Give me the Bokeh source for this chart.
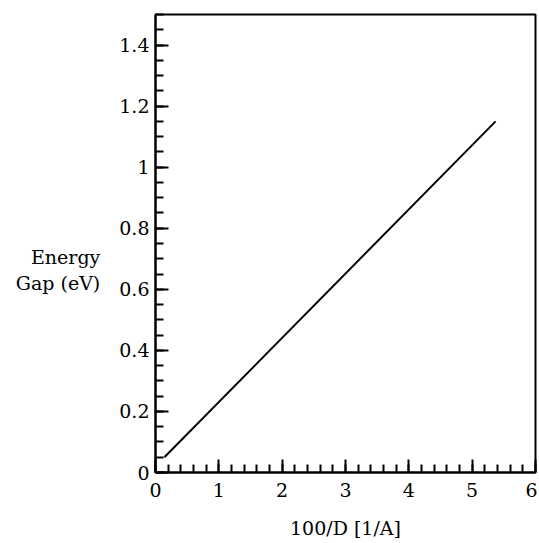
from bokeh.plotting import figure
from bokeh.models import Range1d, FixedTicker
from bokeh.embed import file_html
from bokeh.resources import INLINE

# data
gap_x = [0.14, 5.37]
gap_y = [0.05, 1.15]
x_major = [0, 1, 2, 3, 4, 5, 6]
y_major = [0, 0.2, 0.4, 0.6, 0.8, 1.0, 1.2, 1.4]
y_tick_labels = ["0", "0.2", "0.4", "0.6", "0.8", "1", "1.2", "1.4"]
x_label = "100/D [1/A]"
y_label_lines = ["Energy", "Gap (eV)"]

FONT = "DejaVu Serif"
FS = "19px"

p = figure(width=537, height=541, output_backend="svg", toolbar_location=None,
           x_range=Range1d(0, 6), y_range=Range1d(0, 1.5),
           min_border_left=155, min_border_right=2, min_border_top=14, min_border_bottom=69,
           background_fill_color="white", border_fill_color="white")
p.outline_line_color = "black"
p.outline_line_width = 2
p.xgrid.visible = False
p.ygrid.visible = False

p.line(gap_x, gap_y, line_color="black", line_width=2)

x_minor = [i / 5 for i in range(0, 31)]
y_minor = [i / 20 for i in range(0, 31)]
p.xaxis.ticker = FixedTicker(ticks=x_major, minor_ticks=x_minor)
p.yaxis.ticker = FixedTicker(ticks=y_major, minor_ticks=y_minor)
p.yaxis.major_label_overrides = {v: s for v, s in zip(y_major, y_tick_labels)}

for ax in (p.xaxis, p.yaxis):
    ax.axis_line_width = 2
    ax.axis_line_color = "black"
    ax.major_tick_in = 13
    ax.major_tick_out = 0
    ax.minor_tick_in = 8
    ax.minor_tick_out = 0
    ax.major_tick_line_width = 2
    ax.minor_tick_line_width = 2
    ax.major_tick_line_color = "black"
    ax.minor_tick_line_color = "black"
    ax.major_label_text_font = FONT
    ax.major_label_text_font_size = FS
    ax.major_label_text_color = "black"
    ax.axis_label_text_font = FONT
    ax.axis_label_text_font_size = FS
    ax.axis_label_text_font_style = "normal"
    ax.axis_label_text_color = "black"

p.xaxis.major_label_standoff = 10
p.yaxis.major_label_standoff = 6
p.xaxis.axis_label = x_label
p.xaxis.axis_label_standoff = 17
# two leading empty lines push the two-line label down to sit lower, as in the reference
p.yaxis.axis_label = "\n\n" + "\n".join(y_label_lines)
p.yaxis.axis_label_orientation = "horizontal"
p.yaxis.axis_label_standoff = 16
p.yaxis.axis_label_text_align = "center"

open("out.html", "w").write(file_html(p, INLINE))
